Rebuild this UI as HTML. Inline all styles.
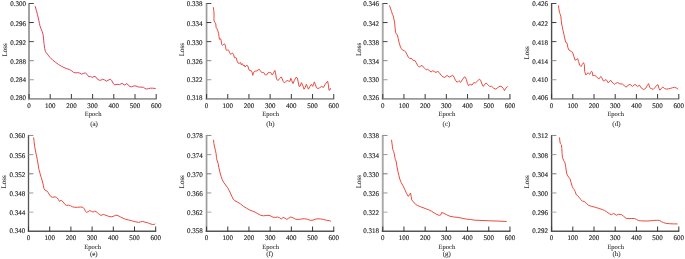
<!DOCTYPE html><html><head><meta charset="utf-8"><style>html,body{margin:0;padding:0;background:#fff;}svg{display:block;}text{font-family:"Liberation Serif",serif;fill:#222;stroke:#222;stroke-width:0.14px;text-rendering:geometricPrecision;}.t{filter:grayscale(1);}.lb{stroke-width:0.08px;fill:#2c2c2c;stroke:#2c2c2c}</style></head><body>
<svg width="685" height="259" viewBox="0 0 685 259">
<g><path d="M29 3V99.7" fill="none" stroke="#a2a2a2" stroke-width="2.0"/><path d="M28 98.8H156.7" fill="none" stroke="#9a9a9a" stroke-width="1.8"/><path d="M29 3.5h4.8" fill="none" stroke="#4a4a4a" stroke-width="1.0"/><path d="M29 22.56h4.8" fill="none" stroke="#383838" stroke-width="1.0"/><path d="M29 41.62h4.8" fill="none" stroke="#484848" stroke-width="1.0"/><path d="M29 60.68h4.8" fill="none" stroke="#888" stroke-width="1.0"/><path d="M29 79.74h4.8" fill="none" stroke="#9a9a9a" stroke-width="1.0"/><path d="M29 98.8v-4.8 M50.2 98.8v-4.8 M71.4 98.8v-4.8 M92.6 98.8v-4.8 M113.8 98.8v-4.8 M135 98.8v-4.8 M156.2 98.8v-4.8" fill="none" stroke="#383838" stroke-width="1.0"/><path d="M35.1 6.2 L36.4 10.5 L37.5 14.7 L38.5 19 L39.5 23.6 L39.8 25.4 L41 28.8 L42.3 31.8 L43.1 34.7 L43.6 39 L44 43.6 L44.2 44.8 L44.7 48.3 L45.3 51.2 L46.3 52.7 L48.1 55.1 L50.2 57.6 L52.9 60.3 L55.7 62.4 L58.5 64.5 L61.3 66.2 L64.1 67.6 L66.8 68.7 L69.6 69.6 L71.7 70.9 L73.5 72.4 L75.2 72.9 L77.6 72.6 L79.7 73.1 L81.5 74.2 L83.2 73.5 L85.3 72.9 L87 74.3 L88.8 76.8 L90.5 76.4 L92.2 77.5 L94 76.4 L95.7 76.8 L97.1 78.8 L99.2 80.2 L100.9 80.2 L102.6 79.3 L104.4 79.8 L106.3 81.2 L108.1 80.3 L110.2 79.2 L111.6 80.3 L113.6 84.1 L114.7 84.8 L117.1 84.3 L119.5 84.6 L122 83.4 L124.8 85.1 L126.8 83.4 L128.2 85.1 L130 86.6 L131.6 86.8 L133.2 86.2 L134.9 85.8 L137 86.4 L138.6 87.1 L140.8 87.1 L143.5 87.3 L144.9 88.4 L146.5 89.1 L148.4 88.5 L150.5 88.2 L152.7 88.2 L155.7 88.5" fill="none" stroke="#e8405c" stroke-width="1.0" stroke-linejoin="round"/></g><g class="t"><text x="26.1" y="6.35" font-size="7.0" text-anchor="end">0.300</text><text x="26.1" y="25.76" font-size="7.0" text-anchor="end">0.296</text><text x="26.1" y="44.87" font-size="7.0" text-anchor="end">0.292</text><text x="26.1" y="63.78" font-size="7.0" text-anchor="end">0.288</text><text x="26.1" y="82.49" font-size="7.0" text-anchor="end">0.284</text><text x="26.1" y="100.45" font-size="7.0" text-anchor="end">0.280</text><text x="29" y="107.8" font-size="7.0" text-anchor="middle">0</text><text x="50.2" y="107.8" font-size="7.0" text-anchor="middle">100</text><text x="71.4" y="107.8" font-size="7.0" text-anchor="middle">200</text><text x="92.6" y="107.8" font-size="7.0" text-anchor="middle">300</text><text x="113.8" y="107.8" font-size="7.0" text-anchor="middle">400</text><text x="135" y="107.8" font-size="7.0" text-anchor="middle">500</text><text x="156.2" y="107.8" font-size="7.0" text-anchor="middle">600</text><text x="93.1" y="116.1" font-size="6.5" text-anchor="middle" class="lb">Epoch</text><text x="94.05" y="125.8" font-size="7.0" text-anchor="middle" class="lb">(a)</text><text x="7.35" y="49.9" font-size="7.0" text-anchor="middle" class="lb" transform="rotate(-90 7.35 49.9)">Loss</text></g>
<g><path d="M206.55 3V99.7" fill="none" stroke="#9c9c9c" stroke-width="1.7"/><path d="M205.7 98.8H334.25" fill="none" stroke="#9a9a9a" stroke-width="1.8"/><path d="M206.55 3.5h4.8" fill="none" stroke="#4a4a4a" stroke-width="1.0"/><path d="M206.55 22.56h4.8" fill="none" stroke="#383838" stroke-width="1.0"/><path d="M206.55 41.62h4.8" fill="none" stroke="#484848" stroke-width="1.0"/><path d="M206.55 60.68h4.8" fill="none" stroke="#888" stroke-width="1.0"/><path d="M206.55 79.74h4.8" fill="none" stroke="#9a9a9a" stroke-width="1.0"/><path d="M206.55 98.8v-4.8 M227.75 98.8v-4.8 M248.95 98.8v-4.8 M270.15 98.8v-4.8 M291.35 98.8v-4.8 M312.55 98.8v-4.8 M333.75 98.8v-4.8" fill="none" stroke="#383838" stroke-width="1.0"/><path d="M213.3 7.2 L213.8 10.8 L214.1 15 L213.9 18.8 L214.1 21 L214.8 22.2 L215.8 23.9 L216.1 27.4 L217.2 29.1 L217.8 30.8 L218.6 33.3 L219 36.7 L219.5 39.3 L220.6 38.8 L221.1 40.1 L221.7 44.4 L222.4 45.4 L223.3 44.4 L224.5 43.9 L225 44.3 L225.5 46.8 L226.2 49.9 L226.9 50.6 L227.9 49.6 L228.6 50.3 L229.6 52.7 L230.7 54.4 L231.4 53.7 L232.4 53 L233.5 54.4 L234.5 57.9 L235.2 57.5 L236.2 57.9 L237.1 61.1 L238.2 63.2 L239.6 63.2 L240.6 62.5 L241.3 64.9 L242.2 63.6 L243 64.9 L243.7 66 L244.4 65.3 L245.1 67 L246.2 65.6 L247.2 65.3 L248.2 67 L248.9 69.8 L250 70.5 L251.4 70.8 L252.2 72.6 L252.8 75.4 L253.4 72.9 L254.5 71.2 L255.5 71.2 L256.9 70.8 L259 69.3 L260.2 70.4 L261.5 72.4 L262.8 72.6 L263.8 72.6 L265.3 75 L266.6 74.9 L268 72.9 L269.4 72.4 L270.8 72.6 L272.2 75 L273.4 73.2 L274.8 70.4 L275.4 72.3 L276.5 79 L278 80.6 L279.5 78.6 L281.2 77 L282.3 78.9 L283.3 81.7 L284.3 82.8 L285.7 81.7 L287.1 80.5 L288.5 81 L289.9 81.4 L290.9 78.3 L291.6 80.3 L293 83.5 L294.4 80.3 L296.1 77.3 L297.4 78.1 L299.1 86.4 L300.2 86.1 L301.4 82.6 L302.6 85 L304 89.2 L305 87.8 L306.4 84.3 L307.5 87.1 L308.5 89.2 L309.9 86.4 L311.4 84.3 L312.7 86.4 L314.4 81.9 L315.4 84.7 L316.5 87.8 L317.9 88.5 L319.6 87.8 L321.7 86.4 L323.4 87.5 L325.2 84.3 L327.6 81.2 L328.3 84.3 L329 90.2 L329.7 90.2 L330.7 88.2" fill="none" stroke="#ec4a3c" stroke-width="1.0" stroke-linejoin="round"/></g><g class="t"><text x="202.55" y="6.35" font-size="7.0" text-anchor="end">0.338</text><text x="202.55" y="25.76" font-size="7.0" text-anchor="end">0.334</text><text x="202.55" y="44.87" font-size="7.0" text-anchor="end">0.330</text><text x="202.55" y="63.78" font-size="7.0" text-anchor="end">0.326</text><text x="202.55" y="82.49" font-size="7.0" text-anchor="end">0.322</text><text x="202.55" y="100.45" font-size="7.0" text-anchor="end">0.318</text><text x="206.55" y="107.8" font-size="7.0" text-anchor="middle">0</text><text x="227.75" y="107.8" font-size="7.0" text-anchor="middle">100</text><text x="248.95" y="107.8" font-size="7.0" text-anchor="middle">200</text><text x="270.15" y="107.8" font-size="7.0" text-anchor="middle">300</text><text x="291.35" y="107.8" font-size="7.0" text-anchor="middle">400</text><text x="312.55" y="107.8" font-size="7.0" text-anchor="middle">500</text><text x="333.75" y="107.8" font-size="7.0" text-anchor="middle">600</text><text x="270.65" y="116.1" font-size="6.5" text-anchor="middle" class="lb">Epoch</text><text x="270.45" y="125.8" font-size="7.0" text-anchor="middle" class="lb">(b)</text><text x="183.9" y="49.7" font-size="7.0" text-anchor="middle" class="lb" transform="rotate(-90 183.9 49.7)">Loss</text></g>
<g><path d="M382.75 3V99.7" fill="none" stroke="#a8a8a8" stroke-width="1.9"/><path d="M381.8 98.8H510.45" fill="none" stroke="#9a9a9a" stroke-width="1.8"/><path d="M382.75 3.5h4.8" fill="none" stroke="#4a4a4a" stroke-width="1.0"/><path d="M382.75 22.56h4.8" fill="none" stroke="#383838" stroke-width="1.0"/><path d="M382.75 41.62h4.8" fill="none" stroke="#484848" stroke-width="1.0"/><path d="M382.75 60.68h4.8" fill="none" stroke="#888" stroke-width="1.0"/><path d="M382.75 79.74h4.8" fill="none" stroke="#9a9a9a" stroke-width="1.0"/><path d="M382.75 98.8v-4.8 M403.95 98.8v-4.8 M425.15 98.8v-4.8 M446.35 98.8v-4.8 M467.55 98.8v-4.8 M488.75 98.8v-4.8 M509.95 98.8v-4.8" fill="none" stroke="#383838" stroke-width="1.0"/><path d="M389.5 5.4 L390.6 8.8 L391.5 11.3 L392.5 14.7 L393.3 16 L394 19.8 L394.6 22 L395 27.1 L395.5 32.2 L396.3 33.9 L397.4 35.1 L398.2 38.5 L399.1 42.4 L399.5 44 L400.2 46.1 L401.2 48.5 L402.6 50.1 L404.3 50.6 L405.7 52 L407.1 54.8 L408.5 57.5 L409.9 58.6 L411.3 58.2 L413.2 60.5 L414.8 60.4 L416.2 62.6 L417.6 65.4 L419.3 67.1 L420.7 66.1 L422.1 65.4 L423.5 67.1 L424.8 68.5 L426.2 69.9 L427.6 69.3 L429.4 70.6 L431.1 72 L432.8 70.7 L434.2 71.6 L436 72.4 L437.8 71.4 L439.2 72.5 L440.9 75 L442.9 76.8 L444.7 77.5 L447.1 75.4 L449.2 77.1 L450.9 76.4 L452.7 75.2 L454.1 77.1 L455.4 80.2 L457.2 82.3 L458.9 80.6 L460.7 82.3 L462.7 79.2 L464.5 76.8 L465.4 77.3 L466.4 79.6 L467.5 83.7 L468.5 85.5 L470.3 84.3 L472 85.1 L473.7 82.7 L475.5 82.9 L477.6 80.9 L479.5 79.1 L480.9 80.9 L481.9 84 L483.3 86.4 L484.7 84.3 L486.1 83.1 L487.8 84.7 L489.5 86.4 L491.6 86.3 L493.7 88.2 L495.8 89.2 L497.9 87.5 L500 86.1 L502 86.8 L503.4 88.5 L504.5 90.6 L505.9 88.2 L507.6 86.3" fill="none" stroke="#ec4a3c" stroke-width="1.0" stroke-linejoin="round"/></g><g class="t"><text x="379.1" y="6.35" font-size="7.0" text-anchor="end">0.346</text><text x="379.1" y="25.76" font-size="7.0" text-anchor="end">0.342</text><text x="379.1" y="44.87" font-size="7.0" text-anchor="end">0.338</text><text x="379.1" y="63.78" font-size="7.0" text-anchor="end">0.334</text><text x="379.1" y="82.49" font-size="7.0" text-anchor="end">0.330</text><text x="379.1" y="100.45" font-size="7.0" text-anchor="end">0.326</text><text x="382.75" y="107.8" font-size="7.0" text-anchor="middle">0</text><text x="403.95" y="107.8" font-size="7.0" text-anchor="middle">100</text><text x="425.15" y="107.8" font-size="7.0" text-anchor="middle">200</text><text x="446.35" y="107.8" font-size="7.0" text-anchor="middle">300</text><text x="467.55" y="107.8" font-size="7.0" text-anchor="middle">400</text><text x="488.75" y="107.8" font-size="7.0" text-anchor="middle">500</text><text x="509.95" y="107.8" font-size="7.0" text-anchor="middle">600</text><text x="446.85" y="116.1" font-size="6.5" text-anchor="middle" class="lb">Epoch</text><text x="446.45" y="125.8" font-size="7.0" text-anchor="middle" class="lb">(c)</text><text x="360.9" y="49.5" font-size="7.0" text-anchor="middle" class="lb" transform="rotate(-90 360.9 49.5)">Loss</text></g>
<g><path d="M551.6 3V99.7" fill="none" stroke="#4c4c4c" stroke-width="1.4"/><path d="M550.9 98.8H679.3" fill="none" stroke="#9a9a9a" stroke-width="1.8"/><path d="M551.6 3.5h4.8" fill="none" stroke="#4a4a4a" stroke-width="1.0"/><path d="M551.6 22.56h4.8" fill="none" stroke="#383838" stroke-width="1.0"/><path d="M551.6 41.62h4.8" fill="none" stroke="#484848" stroke-width="1.0"/><path d="M551.6 60.68h4.8" fill="none" stroke="#888" stroke-width="1.0"/><path d="M551.6 79.74h4.8" fill="none" stroke="#9a9a9a" stroke-width="1.0"/><path d="M551.6 98.8v-4.8 M572.8 98.8v-4.8 M594 98.8v-4.8 M615.2 98.8v-4.8 M636.4 98.8v-4.8 M657.6 98.8v-4.8 M678.8 98.8v-4.8" fill="none" stroke="#383838" stroke-width="1.0"/><path d="M558.4 5.4 L558.8 8.4 L559.5 12.6 L560.3 14.3 L560.9 16.8 L561.3 20.7 L561.6 24 L562.2 26.2 L563 30.5 L564 34.7 L564.9 39 L565.6 42.2 L566.6 42.4 L567.2 44.1 L567.9 47.6 L568.9 50 L570.3 51 L571.7 51.4 L572.8 53.1 L573.8 56.2 L575.1 60.2 L576.2 59.6 L577.6 58.6 L578.6 61.6 L579.6 65.1 L581 66.5 L582.4 64.4 L583.5 62.7 L584.3 64.5 L584.7 71.6 L585.9 75 L586.9 73.6 L588.2 72.9 L589.7 74.3 L591.5 71.2 L592.4 72.3 L592.8 75.7 L594.6 75.4 L596.3 76.4 L598.1 78.5 L599.1 78.8 L600.8 76.4 L601.9 77.8 L603.3 80.9 L604.7 80.6 L606 79.5 L607.1 80.9 L608.1 82.7 L609.2 82 L610.6 80.2 L611.9 82 L613.3 83.4 L614.4 84.3 L615.8 83.4 L617.6 82.5 L619.6 83.7 L622.4 84.1 L623.8 85.1 L625.9 87.2 L628 85.5 L629.9 84.3 L632.5 86.5 L634.9 84.3 L637.7 86.5 L639.4 85.1 L641.2 87.9 L643.6 89.6 L645.8 88.2 L647.2 85.7 L648.6 83.6 L649.6 87.1 L650.7 88.5 L651.7 88.5 L653.1 89.5 L654.8 87.8 L656.6 85.4 L658 84.7 L659 88.5 L659.9 90.2 L661.4 88.2 L662.8 87.1 L664.6 88.5 L666.3 89.2 L668.4 88.8 L670.5 88.4 L672.6 87.7 L674.6 87.3 L676.7 88.2 L678.1 89.2" fill="none" stroke="#ec4a3c" stroke-width="1.0" stroke-linejoin="round"/></g><g class="t"><text x="548.1" y="6.35" font-size="7.0" text-anchor="end">0.426</text><text x="548.1" y="25.76" font-size="7.0" text-anchor="end">0.422</text><text x="548.1" y="44.87" font-size="7.0" text-anchor="end">0.418</text><text x="548.1" y="63.78" font-size="7.0" text-anchor="end">0.414</text><text x="548.1" y="82.49" font-size="7.0" text-anchor="end">0.410</text><text x="548.1" y="100.45" font-size="7.0" text-anchor="end">0.406</text><text x="551.6" y="107.8" font-size="7.0" text-anchor="middle">0</text><text x="572.8" y="107.8" font-size="7.0" text-anchor="middle">100</text><text x="594" y="107.8" font-size="7.0" text-anchor="middle">200</text><text x="615.2" y="107.8" font-size="7.0" text-anchor="middle">300</text><text x="636.4" y="107.8" font-size="7.0" text-anchor="middle">400</text><text x="657.6" y="107.8" font-size="7.0" text-anchor="middle">500</text><text x="678.8" y="107.8" font-size="7.0" text-anchor="middle">600</text><text x="615.7" y="116.1" font-size="6.5" text-anchor="middle" class="lb">Epoch</text><text x="616.45" y="125.8" font-size="7.0" text-anchor="middle" class="lb">(d)</text><text x="529.4" y="52.95" font-size="7.0" text-anchor="middle" class="lb" transform="rotate(-90 529.4 52.95)">Loss</text></g>
<g><path d="M28.5 134.95V232" fill="none" stroke="#555" stroke-width="1.3"/><path d="M27.85 231.3H156.2" fill="none" stroke="#555" stroke-width="1.4"/><path d="M28.5 135.45h4.8" fill="none" stroke="#888" stroke-width="1.0"/><path d="M28.5 154.62h4.8" fill="none" stroke="#999" stroke-width="1.0"/><path d="M28.5 173.79h4.8" fill="none" stroke="#777" stroke-width="1.0"/><path d="M28.5 192.96h4.8" fill="none" stroke="#999" stroke-width="1.0"/><path d="M28.5 212.13h4.8" fill="none" stroke="#aaa" stroke-width="1.0"/><path d="M28.5 231.3v-4.8 M49.7 231.3v-4.8 M70.9 231.3v-4.8 M92.1 231.3v-4.8 M113.3 231.3v-4.8 M134.5 231.3v-4.8 M155.7 231.3v-4.8" fill="none" stroke="#383838" stroke-width="1.0"/><path d="M33.6 137.4 L34.1 141.6 L34.7 146.7 L35.5 151 L36.3 155 L37.2 159.1 L38.1 164.2 L38.9 169.3 L40.2 174 L41.2 177.5 L42.3 180.9 L43.3 185.1 L44 188.6 L45 190.2 L46.8 190.9 L48.2 192.6 L49.6 195 L50.9 196.6 L52.7 197.3 L55.1 196.8 L56.8 197.5 L58.2 199.2 L59.4 201.3 L61.3 200.3 L63.1 201.9 L64.9 204.3 L66.3 205.4 L68.7 205.2 L70.4 205.7 L72.5 206.8 L74.6 207.3 L77.4 207.3 L80.8 207 L82.9 207.3 L84.3 208.8 L85.7 211.6 L86.7 212.5 L88.1 211.6 L89.9 210.6 L91.6 211.4 L93 212.1 L94.7 211.1 L96.1 211.6 L98.4 213.6 L100.9 215.4 L103.3 214.5 L105.7 215.2 L108.5 216.3 L111.3 216.8 L113.4 216.3 L115.8 215.2 L117.9 215.6 L120.3 216.8 L123.1 218.3 L125.9 219.3 L128.6 220 L131.4 220.6 L133.8 221.4 L135.9 221.9 L138.7 222.4 L140.4 221.9 L142.5 221.4 L144.9 222.1 L147.7 222.8 L149.8 223.7 L152.6 224.5 L154.3 224.4 L155.3 223.8" fill="none" stroke="#ec4a3c" stroke-width="1.0" stroke-linejoin="round"/></g><g class="t"><text x="25.2" y="138.3" font-size="7.0" text-anchor="end">0.360</text><text x="25.2" y="157.82" font-size="7.0" text-anchor="end">0.356</text><text x="25.2" y="177.04" font-size="7.0" text-anchor="end">0.352</text><text x="25.2" y="196.06" font-size="7.0" text-anchor="end">0.348</text><text x="25.2" y="214.88" font-size="7.0" text-anchor="end">0.344</text><text x="25.2" y="232.95" font-size="7.0" text-anchor="end">0.340</text><text x="28.5" y="240.3" font-size="7.0" text-anchor="middle">0</text><text x="49.7" y="240.3" font-size="7.0" text-anchor="middle">100</text><text x="70.9" y="240.3" font-size="7.0" text-anchor="middle">200</text><text x="92.1" y="240.3" font-size="7.0" text-anchor="middle">300</text><text x="113.3" y="240.3" font-size="7.0" text-anchor="middle">400</text><text x="134.5" y="240.3" font-size="7.0" text-anchor="middle">500</text><text x="155.7" y="240.3" font-size="7.0" text-anchor="middle">600</text><text x="92.6" y="248.9" font-size="6.5" text-anchor="middle" class="lb">Epoch</text><text x="93.8" y="255.9" font-size="7.0" text-anchor="middle" class="lb">(e)</text><text x="6.3" y="181.85" font-size="7.0" text-anchor="middle" class="lb" transform="rotate(-90 6.3 181.85)">Loss</text></g>
<g><path d="M206.55 134.95V232" fill="none" stroke="#9c9c9c" stroke-width="1.7"/><path d="M205.7 231.3H334.25" fill="none" stroke="#555" stroke-width="1.4"/><path d="M206.55 135.45h4.8" fill="none" stroke="#888" stroke-width="1.0"/><path d="M206.55 154.62h4.8" fill="none" stroke="#999" stroke-width="1.0"/><path d="M206.55 173.79h4.8" fill="none" stroke="#777" stroke-width="1.0"/><path d="M206.55 192.96h4.8" fill="none" stroke="#999" stroke-width="1.0"/><path d="M206.55 212.13h4.8" fill="none" stroke="#aaa" stroke-width="1.0"/><path d="M206.55 231.3v-4.8 M227.75 231.3v-4.8 M248.95 231.3v-4.8 M270.15 231.3v-4.8 M291.35 231.3v-4.8 M312.55 231.3v-4.8 M333.75 231.3v-4.8" fill="none" stroke="#383838" stroke-width="1.0"/><path d="M213.5 139.8 L213.9 143.6 L214.6 147 L215.5 150.8 L216.1 153.8 L216.5 157.6 L216.9 159.8 L218.2 163.6 L218.9 167.9 L219.9 172.1 L221.2 176.6 L222.2 179.5 L223.6 182.3 L225.6 185 L227.7 187.8 L229.2 190.5 L230.4 193.1 L231.8 196.3 L233.2 199 L234.9 200.8 L237.7 202.2 L240.5 203.9 L243.3 206.2 L246.5 208.2 L249.6 210 L252.3 211 L255.1 212.1 L257.9 213.8 L260.7 215.3 L263.4 215.8 L266.2 215.5 L269 215.3 L271.1 216.2 L273.2 217.3 L275.6 217.4 L277.7 217 L279.6 217.8 L281.3 219 L283.1 217.4 L284.9 218.1 L286.9 219.5 L288.7 218.1 L290.8 217 L292.8 217.7 L295.3 219.1 L298.1 219.5 L300.8 219.1 L304.2 218.7 L307.6 219.3 L310.2 220.3 L313 220.2 L315.3 219.2 L318.1 218.8 L320.8 219 L323.6 219.4 L326.4 220.3 L329.2 220.6 L330.9 221.3" fill="none" stroke="#ec4a3c" stroke-width="1.0" stroke-linejoin="round"/></g><g class="t"><text x="202.85" y="138.3" font-size="7.0" text-anchor="end">0.378</text><text x="202.85" y="157.82" font-size="7.0" text-anchor="end">0.374</text><text x="202.85" y="177.04" font-size="7.0" text-anchor="end">0.370</text><text x="202.85" y="196.06" font-size="7.0" text-anchor="end">0.366</text><text x="202.85" y="214.88" font-size="7.0" text-anchor="end">0.362</text><text x="202.85" y="232.95" font-size="7.0" text-anchor="end">0.358</text><text x="206.55" y="240.3" font-size="7.0" text-anchor="middle">0</text><text x="227.75" y="240.3" font-size="7.0" text-anchor="middle">100</text><text x="248.95" y="240.3" font-size="7.0" text-anchor="middle">200</text><text x="270.15" y="240.3" font-size="7.0" text-anchor="middle">300</text><text x="291.35" y="240.3" font-size="7.0" text-anchor="middle">400</text><text x="312.55" y="240.3" font-size="7.0" text-anchor="middle">500</text><text x="333.75" y="240.3" font-size="7.0" text-anchor="middle">600</text><text x="270.65" y="248.9" font-size="6.5" text-anchor="middle" class="lb">Epoch</text><text x="269.7" y="255.9" font-size="7.0" text-anchor="middle" class="lb">(f)</text><text x="184" y="181.75" font-size="7.0" text-anchor="middle" class="lb" transform="rotate(-90 184 181.75)">Loss</text></g>
<g><path d="M382.75 134.95V232" fill="none" stroke="#a8a8a8" stroke-width="1.9"/><path d="M381.8 231.3H510.45" fill="none" stroke="#555" stroke-width="1.4"/><path d="M382.75 135.45h4.8" fill="none" stroke="#888" stroke-width="1.0"/><path d="M382.75 154.62h4.8" fill="none" stroke="#999" stroke-width="1.0"/><path d="M382.75 173.79h4.8" fill="none" stroke="#777" stroke-width="1.0"/><path d="M382.75 192.96h4.8" fill="none" stroke="#999" stroke-width="1.0"/><path d="M382.75 212.13h4.8" fill="none" stroke="#aaa" stroke-width="1.0"/><path d="M382.75 231.3v-4.8 M403.95 231.3v-4.8 M425.15 231.3v-4.8 M446.35 231.3v-4.8 M467.55 231.3v-4.8 M488.75 231.3v-4.8 M509.95 231.3v-4.8" fill="none" stroke="#383838" stroke-width="1.0"/><path d="M391.5 139.8 L391.9 142.8 L392.4 146.2 L392.8 149.6 L393.6 151.3 L394.3 153.8 L394.8 157.2 L395.3 159.4 L396.3 161.9 L396.9 166.2 L397.9 171.3 L398.9 175.5 L399.8 179.1 L401.2 182.6 L403.2 186.1 L404.8 189.5 L406.5 193.3 L408.3 196.4 L409.5 194.7 L410.5 193 L411.2 196.4 L411.7 199.9 L413.4 201.8 L415.5 204.3 L417.6 205.5 L420.3 206.7 L423.1 207.7 L425.9 208.8 L428.7 209.8 L431.4 211.1 L434.2 212.9 L437 214.5 L439.4 215.4 L440.8 214.9 L441.6 212.5 L443.2 213 L446.3 214.6 L449.7 216.2 L453.9 217 L458.1 217.4 L462.2 218.3 L466.4 219.1 L470.6 219.5 L474.7 220.2 L480 220.4 L489.5 220.8 L498.9 221.1 L506.7 221.5" fill="none" stroke="#ec4a3c" stroke-width="1.0" stroke-linejoin="round"/></g><g class="t"><text x="379.1" y="138.3" font-size="7.0" text-anchor="end">0.338</text><text x="379.1" y="157.82" font-size="7.0" text-anchor="end">0.334</text><text x="379.1" y="177.04" font-size="7.0" text-anchor="end">0.330</text><text x="379.1" y="196.06" font-size="7.0" text-anchor="end">0.326</text><text x="379.1" y="214.88" font-size="7.0" text-anchor="end">0.322</text><text x="379.1" y="232.95" font-size="7.0" text-anchor="end">0.318</text><text x="382.75" y="240.3" font-size="7.0" text-anchor="middle">0</text><text x="403.95" y="240.3" font-size="7.0" text-anchor="middle">100</text><text x="425.15" y="240.3" font-size="7.0" text-anchor="middle">200</text><text x="446.35" y="240.3" font-size="7.0" text-anchor="middle">300</text><text x="467.55" y="240.3" font-size="7.0" text-anchor="middle">400</text><text x="488.75" y="240.3" font-size="7.0" text-anchor="middle">500</text><text x="509.95" y="240.3" font-size="7.0" text-anchor="middle">600</text><text x="446.85" y="248.9" font-size="6.5" text-anchor="middle" class="lb">Epoch</text><text x="446.85" y="255.9" font-size="7.0" text-anchor="middle" class="lb">(g)</text><text x="360.7" y="181.75" font-size="7.0" text-anchor="middle" class="lb" transform="rotate(-90 360.7 181.75)">Loss</text></g>
<g><path d="M551.6 134.95V232" fill="none" stroke="#4c4c4c" stroke-width="1.4"/><path d="M550.9 231.3H679.3" fill="none" stroke="#555" stroke-width="1.4"/><path d="M551.6 135.45h4.8" fill="none" stroke="#888" stroke-width="1.0"/><path d="M551.6 154.62h4.8" fill="none" stroke="#999" stroke-width="1.0"/><path d="M551.6 173.79h4.8" fill="none" stroke="#777" stroke-width="1.0"/><path d="M551.6 192.96h4.8" fill="none" stroke="#999" stroke-width="1.0"/><path d="M551.6 212.13h4.8" fill="none" stroke="#aaa" stroke-width="1.0"/><path d="M551.6 231.3v-4.8 M572.8 231.3v-4.8 M594 231.3v-4.8 M615.2 231.3v-4.8 M636.4 231.3v-4.8 M657.6 231.3v-4.8 M678.8 231.3v-4.8" fill="none" stroke="#383838" stroke-width="1.0"/><path d="M559.5 137.4 L559.8 140.8 L560.4 143.8 L561.5 144.9 L561.8 148.4 L562.1 153.5 L562.5 157.6 L563.8 160.8 L565 162.9 L565.7 166.7 L566.3 171 L567 174.5 L568.6 177.2 L570 178.9 L571 182.4 L572.3 186.6 L573.3 188.7 L574.3 189.6 L575.2 191.6 L576.3 194.8 L577.6 195.5 L579 197.2 L580.8 199.6 L582.4 201.2 L584.2 201.4 L586.3 203.3 L588.7 205.4 L591.8 206.4 L595.3 207.3 L598.8 208.4 L602.2 209.5 L604.5 210.5 L606.8 211.9 L609.2 213.6 L611.3 214.7 L613.7 213.5 L616.5 215.2 L618.6 214.3 L621.4 214.5 L623.4 216.1 L626.2 218.4 L629 218.6 L631.8 218.5 L634.6 218.5 L636.6 219.5 L638.7 220.6 L641.5 220.9 L646.9 221 L650.4 220.8 L653.9 220.4 L657.4 220.3 L659.8 220.6 L661.5 221.7 L663.6 222.6 L665.7 223.3 L669.2 223.7 L673.3 223.9 L677.5 223.9" fill="none" stroke="#ec4a3c" stroke-width="1.0" stroke-linejoin="round"/></g><g class="t"><text x="548.1" y="138.3" font-size="7.0" text-anchor="end">0.312</text><text x="548.1" y="157.82" font-size="7.0" text-anchor="end">0.308</text><text x="548.1" y="177.04" font-size="7.0" text-anchor="end">0.304</text><text x="548.1" y="196.06" font-size="7.0" text-anchor="end">0.300</text><text x="548.1" y="214.88" font-size="7.0" text-anchor="end">0.296</text><text x="548.1" y="232.95" font-size="7.0" text-anchor="end">0.292</text><text x="551.6" y="240.3" font-size="7.0" text-anchor="middle">0</text><text x="572.8" y="240.3" font-size="7.0" text-anchor="middle">100</text><text x="594" y="240.3" font-size="7.0" text-anchor="middle">200</text><text x="615.2" y="240.3" font-size="7.0" text-anchor="middle">300</text><text x="636.4" y="240.3" font-size="7.0" text-anchor="middle">400</text><text x="657.6" y="240.3" font-size="7.0" text-anchor="middle">500</text><text x="678.8" y="240.3" font-size="7.0" text-anchor="middle">600</text><text x="615.7" y="248.9" font-size="6.5" text-anchor="middle" class="lb">Epoch</text><text x="616.55" y="255.9" font-size="7.0" text-anchor="middle" class="lb">(h)</text><text x="529.4" y="181.85" font-size="7.0" text-anchor="middle" class="lb" transform="rotate(-90 529.4 181.85)">Loss</text></g>
</svg></body></html>
